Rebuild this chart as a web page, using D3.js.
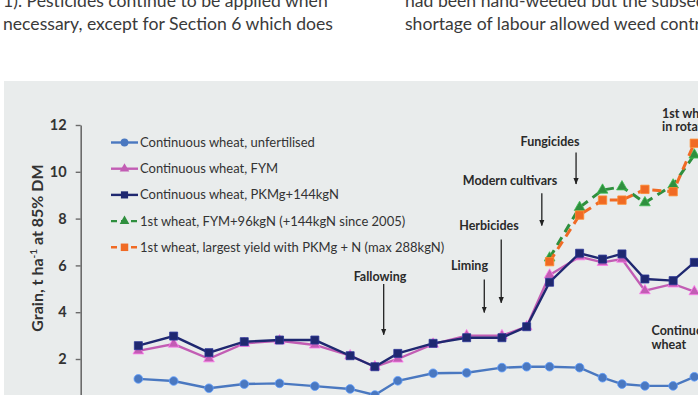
<!DOCTYPE html>
<html>
<head>
<meta charset="utf-8">
<script src="https://cdn.jsdelivr.net/npm/d3@7"></script>
<style>
  body { margin: 0; background: #fff; }
  text { font-family: Lato, "Open Sans", sans-serif; }
</style>
</head>
<body>
<div id="chart"></div>
<script>
// period mid-years and mean yields (t/ha)
const years = [1856.5, 1866.5, 1876.5, 1886.5, 1896.5, 1906.5, 1916.5, 1923.5, 1930, 1940,
               1949.5, 1959.5, 1966.5, 1973, 1981.5, 1988, 1993.5, 2000, 2008, 2014]
const unfertilised = [1.15, 1.06, 0.75, 0.93, 0.96, 0.84, 0.72, 0.46, 1.07, 1.39,
                      1.41, 1.63, 1.67, 1.67, 1.63, 1.20, 0.93, 0.85, 0.85, 1.24]
const fym = [2.35, 2.64, 2.01, 2.67, 2.78, 2.60, 2.14, 1.67, 2.00, 2.64,
             3.00, 3.00, 3.38, 5.59, 6.37, 6.13, 6.27, 4.92, 5.21, 4.88]
const pkmgN = [2.57, 2.98, 2.27, 2.74, 2.81, 2.81, 2.14, 1.67, 2.24, 2.67,
               2.91, 2.91, 3.38, 5.28, 6.52, 6.27, 6.49, 5.42, 5.35, 6.13]
const rotYears = [1973, 1981.5, 1988, 1993.5, 2000, 2008, 2014]
const rotFym = [6.32, 8.48, 9.22, 9.36, 8.68, 9.44, 10.72]
const rotMax = [6.16, 8.15, 8.79, 8.79, 9.25, 9.15, 11.22]
const yTicks = [2, 4, 6, 8, 10, 12]

const legendNames = [
  "Continuous wheat, unfertilised",
  "Continuous wheat, FYM",
  "Continuous wheat, PKMg+144kgN",
  "1st wheat, FYM+96kgN (+144kgN since 2005)",
  "1st wheat, largest yield with PKMg + N (max 288kgN)"
]
// label, year of arrow, top of arrow, bottom of arrow (yield units)
const events = [
  ["Fallowing", 1926, 5.21, 3.04],
  ["Liming", 1954.5, 5.4, 3.99],
  ["Herbicides", 1959.3, 7.11, 4.4],
  ["Modern cultivars", 1970.8, 9.08, 7.7],
  ["Fungicides", 1980.5, 10.82, 9.48]
]

const width = 698, height = 395
const svg = d3.select('#chart').append('svg')
    .attr('width', width).attr('height', height)

svg.append('rect').attr('width', width).attr('height', height).attr('fill', '#fff')

// body text above the figure
const body = svg.append('g').attr('fill', '#3a3a3a').attr('font-size', 17.6)
body.append('text').attr('x', 3).attr('y', 7).text('1). Pesticides continue to be applied when')
body.append('text').attr('x', 3).attr('y', 30).text('necessary, except for Section 6 which does')
body.append('text').attr('x', 405).attr('y', 7).text('had been hand-weeded but the subsequent')
body.append('text').attr('x', 405).attr('y', 30).text('shortage of labour allowed weed control')

// figure panel
svg.append('rect').attr('x', 4).attr('y', 81).attr('width', 720).attr('height', 340)
    .attr('fill', '#e9ecec')

const x = d3.scaleLinear().domain([1850, 2020]).range([115.4, 715.5])
const y = d3.scaleLinear().domain([0, 12]).range([405.8, 125])

const axis = svg.append('g').attr('transform', 'translate(80.7,0)')
    .call(d3.axisLeft(y).tickValues(yTicks).tickSize(5).tickSizeOuter(0).tickPadding(9))
axis.select('.domain').attr('stroke', '#6b6b6b').attr('stroke-width', 1.6)
axis.selectAll('.tick line').attr('stroke', '#6b6b6b').attr('stroke-width', 1.4)
axis.selectAll('.tick text').attr('font-size', 14.5).attr('font-weight', 'bold')
    .attr('fill', '#333').attr('font-family', 'Lato, sans-serif')

const yl = svg.append('text').attr('transform', 'translate(43,248) rotate(-90)')
    .attr('text-anchor', 'middle').attr('font-size', 16).attr('font-weight', 'bold').attr('fill', '#333')
yl.append('tspan').text('Grain, t ha')
yl.append('tspan').attr('font-size', 10).attr('dy', -6).text('-1')
yl.append('tspan').attr('dy', 6).text(' at 85% DM')

const line = d3.line().x(d => x(d[0])).y(d => y(d[1]))

const series = [
  {vals: unfertilised, xs: years, color: '#4a78c0', shape: d3.symbolCircle, size: 60, dash: null},
  {vals: fym, xs: years, color: '#c25db4', shape: d3.symbolTriangle, size: 50, dash: null},
  {vals: pkmgN, xs: years, color: '#1f2870', shape: d3.symbolSquare, size: 64, dash: null},
  {vals: rotFym, xs: rotYears, color: '#2f8f3e', shape: d3.symbolTriangle, size: 50, dash: '9,6'},
  {vals: rotMax, xs: rotYears, color: '#f06a24', shape: d3.symbolSquare, size: 70, dash: '9,6'}
]

const plot = svg.append('g')
series.forEach(s => {
  const pts = s.xs.map((yr, i) => [yr, s.vals[i]])
  plot.append('path').attr('d', line(pts))
      .attr('fill', 'none').attr('stroke', s.color)
      .attr('stroke-width', s.dash ? 3 : 2.4)
      .attr('stroke-dasharray', s.dash)
  plot.selectAll(null).data(pts).join('path')
      .attr('transform', d => `translate(${x(d[0])},${y(d[1])})`)
      .attr('d', d3.symbol(s.shape, s.size))
      .attr('fill', s.color)
      .attr('stroke', d3.color(s.color).brighter(0.8)).attr('stroke-width', 0.8)
})

// legend
const legend = svg.append('g')
legendNames.forEach((name, i) => {
  const s = series[i]
  const ly = 142.5 + i * 26.2
  const g = legend.append('g').attr('transform', `translate(0,${ly})`)
  g.append('line').attr('x1', 111).attr('x2', 138).attr('stroke', s.color)
      .attr('stroke-width', 2.4).attr('stroke-dasharray', s.dash ? '6,4' : null)
  g.append('path').attr('transform', 'translate(124.5,0)')
      .attr('d', d3.symbol(s.shape, s.size * 0.8)).attr('fill', s.color)
  g.append('text').attr('x', 140).attr('y', 4.5).attr('font-size', 13)
      .attr('fill', '#333').text(name)
})

// annotations with arrows
svg.append('defs').append('marker').attr('id', 'head')
    .attr('viewBox', '0 0 10 10').attr('refX', 9).attr('refY', 5)
    .attr('markerWidth', 5).attr('markerHeight', 5).attr('orient', 'auto')
    .append('path').attr('d', 'M0,1L10,5L0,9z').attr('fill', '#222')

const notes = svg.append('g')
events.forEach(([label, yr, top, bottom]) => {
  notes.append('line').attr('x1', x(yr)).attr('x2', x(yr))
      .attr('y1', y(top)).attr('y2', y(bottom))
      .attr('stroke', '#222').attr('stroke-width', 1.3).attr('marker-end', 'url(#head)')
})
const labelPos = {
  "Fallowing": [380, 281], "Liming": [469.5, 270], "Herbicides": [489, 229.5],
  "Modern cultivars": [510, 184.5], "Fungicides": [550, 146]
}
events.forEach(([label]) => {
  notes.append('text').attr('x', labelPos[label][0]).attr('y', labelPos[label][1])
      .attr('text-anchor', 'middle').attr('font-size', 12.5).attr('font-weight', 'bold')
      .attr('fill', '#2a2a2a').text(label)
})
const rot = notes.append('text').attr('x', 662).attr('font-size', 12.5)
    .attr('font-weight', 'bold').attr('fill', '#2a2a2a')
rot.append('tspan').attr('x', 662).attr('y', 117.5).text('1st wheat')
rot.append('tspan').attr('x', 662).attr('y', 131).text('in rotation')
const cont = notes.append('text').attr('font-size', 12.5)
    .attr('font-weight', 'bold').attr('fill', '#2a2a2a')
cont.append('tspan').attr('x', 651.5).attr('y', 334.5).text('Continuous')
cont.append('tspan').attr('x', 651.5).attr('y', 348.5).text('wheat')
</script>
</body>
</html>
